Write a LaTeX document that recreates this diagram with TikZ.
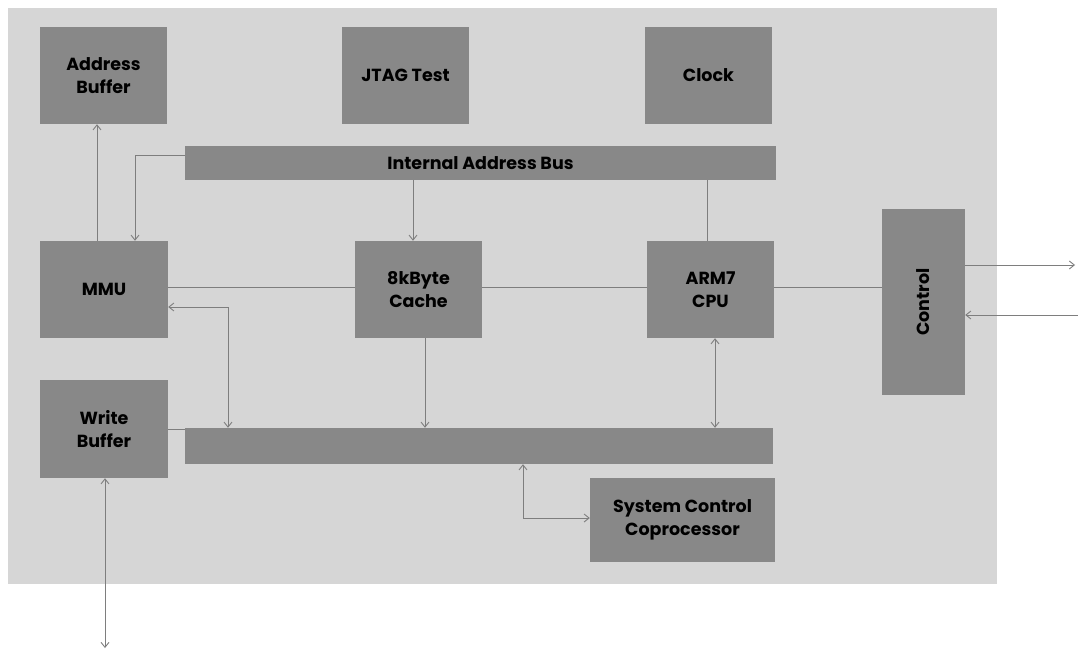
\documentclass[tikz,border=0pt]{standalone}
\usepackage{fontspec}
\setmainfont{Poppins}
\usetikzlibrary{arrows.meta,calc}
\definecolor{panelgray}{HTML}{D6D6D6}
\definecolor{boxgray}{HTML}{888888}
\definecolor{linegray}{HTML}{7E7E7E}
\tikzset{
  blk/.style={fill=boxgray, draw=none, inner sep=0pt, align=center,
    font=\fontsize{17.5}{23}\selectfont\bfseries, text=black},
  conn/.style={draw=linegray, line width=0.9pt,
    arrows={-}, >={Straight Barb[length=5pt,width=8pt]}}
}
\begin{document}
\begin{tikzpicture}[x=1pt,y=-1pt]
\useasboundingbox (0,0) rectangle (1078,652);
\fill[white] (0,0) rectangle (1078,652);
% chip outline
\fill[panelgray] (8,8) rectangle (997,584);

% functional blocks
\node[blk, minimum width=127pt, minimum height=97pt] (ab)    at (103.5,75.5) {Address\\Buffer};
\node[blk, minimum width=127pt, minimum height=97pt] (jtag)  at (405.5,75.5) {JTAG Test};
\node[blk, minimum width=127pt, minimum height=97pt] (clk)   at (708.5,75.5) {Clock};
\node[blk, minimum width=591pt, minimum height=34pt] (iab)   at (480.5,163)  {Internal Address Bus};
\node[blk, minimum width=128pt, minimum height=97pt] (mmu)   at (104,289.5)  {MMU};
\node[blk, minimum width=127pt, minimum height=97pt] (cache) at (418.5,289.5) {8kByte\\Cache};
\node[blk, minimum width=127pt, minimum height=97pt] (cpu)   at (710.5,289.5) {ARM7\\CPU};
\node[blk, minimum width=83pt, minimum height=186pt] (ctrl)  at (923.5,302) {};
\node[blk, rotate=90] (ctrllabel) at (ctrl.center) {Control};
\node[blk, minimum width=128pt, minimum height=98pt] (wb)    at (104,429) {Write\\Buffer};
\node[blk, minimum width=588pt, minimum height=36pt] (dbus)  at (479,446) {};
\node[blk, minimum width=185pt, minimum height=84pt] (scc)   at (682.5,520) {System Control\\Coprocessor};

% free ends and bends
\coordinate (mmujog) at (228,307);
\coordinate (sccjog) at (523,518);
\coordinate (extio)  at (105,648);
\coordinate (ctrlout) at (1075,265);
\coordinate (ctrlin)  at (1078,315);

% address paths
\draw[conn,->] ([xshift=-7pt]mmu.north) -- ([xshift=-7pt]mmu.north |- ab.south);
\draw[conn,->] ([yshift=8pt]iab.west) -| ([xshift=31pt]mmu.north);
\draw[conn,->] ([xshift=-5.5pt]cache.north |- iab.south) -- ([xshift=-5.5pt]cache.north);
\draw[conn] ([xshift=-3.5pt]cpu.north) -- ([xshift=-3.5pt]cpu.north |- iab.south);

% horizontal links
\draw[conn] ([yshift=2.5pt]mmu.east) -- ([yshift=2.5pt]cache.west);
\draw[conn] ([yshift=2.5pt]cache.east) -- ([yshift=2.5pt]cpu.west);
\draw[conn] ([yshift=2.5pt]cpu.east) -- ([yshift=2.5pt]cpu.east -| ctrl.west);

% data bus paths
\draw[conn,<->] (mmujog -| mmu.east) -- (mmujog) -- (mmujog |- dbus.north);
\draw[conn,->] ([xshift=6.5pt]cache.south) -- ([xshift=6.5pt]cache.south |- dbus.north);
\draw[conn,<->] ([xshift=4.5pt]cpu.south) -- ([xshift=4.5pt]cpu.south |- dbus.north);
\draw[conn,<->] (sccjog |- dbus.south) -- (sccjog) -- (sccjog -| scc.west);
\draw[conn] (wb.east) -- (wb.east -| dbus.west);
\draw[conn,<->] (extio |- wb.south) -- (extio);

% control signals
\draw[conn,->] (ctrlout -| ctrl.east) -- (ctrlout);
\draw[conn,->] (ctrlin) -- (ctrlin -| ctrl.east);
\end{tikzpicture}
\end{document}
